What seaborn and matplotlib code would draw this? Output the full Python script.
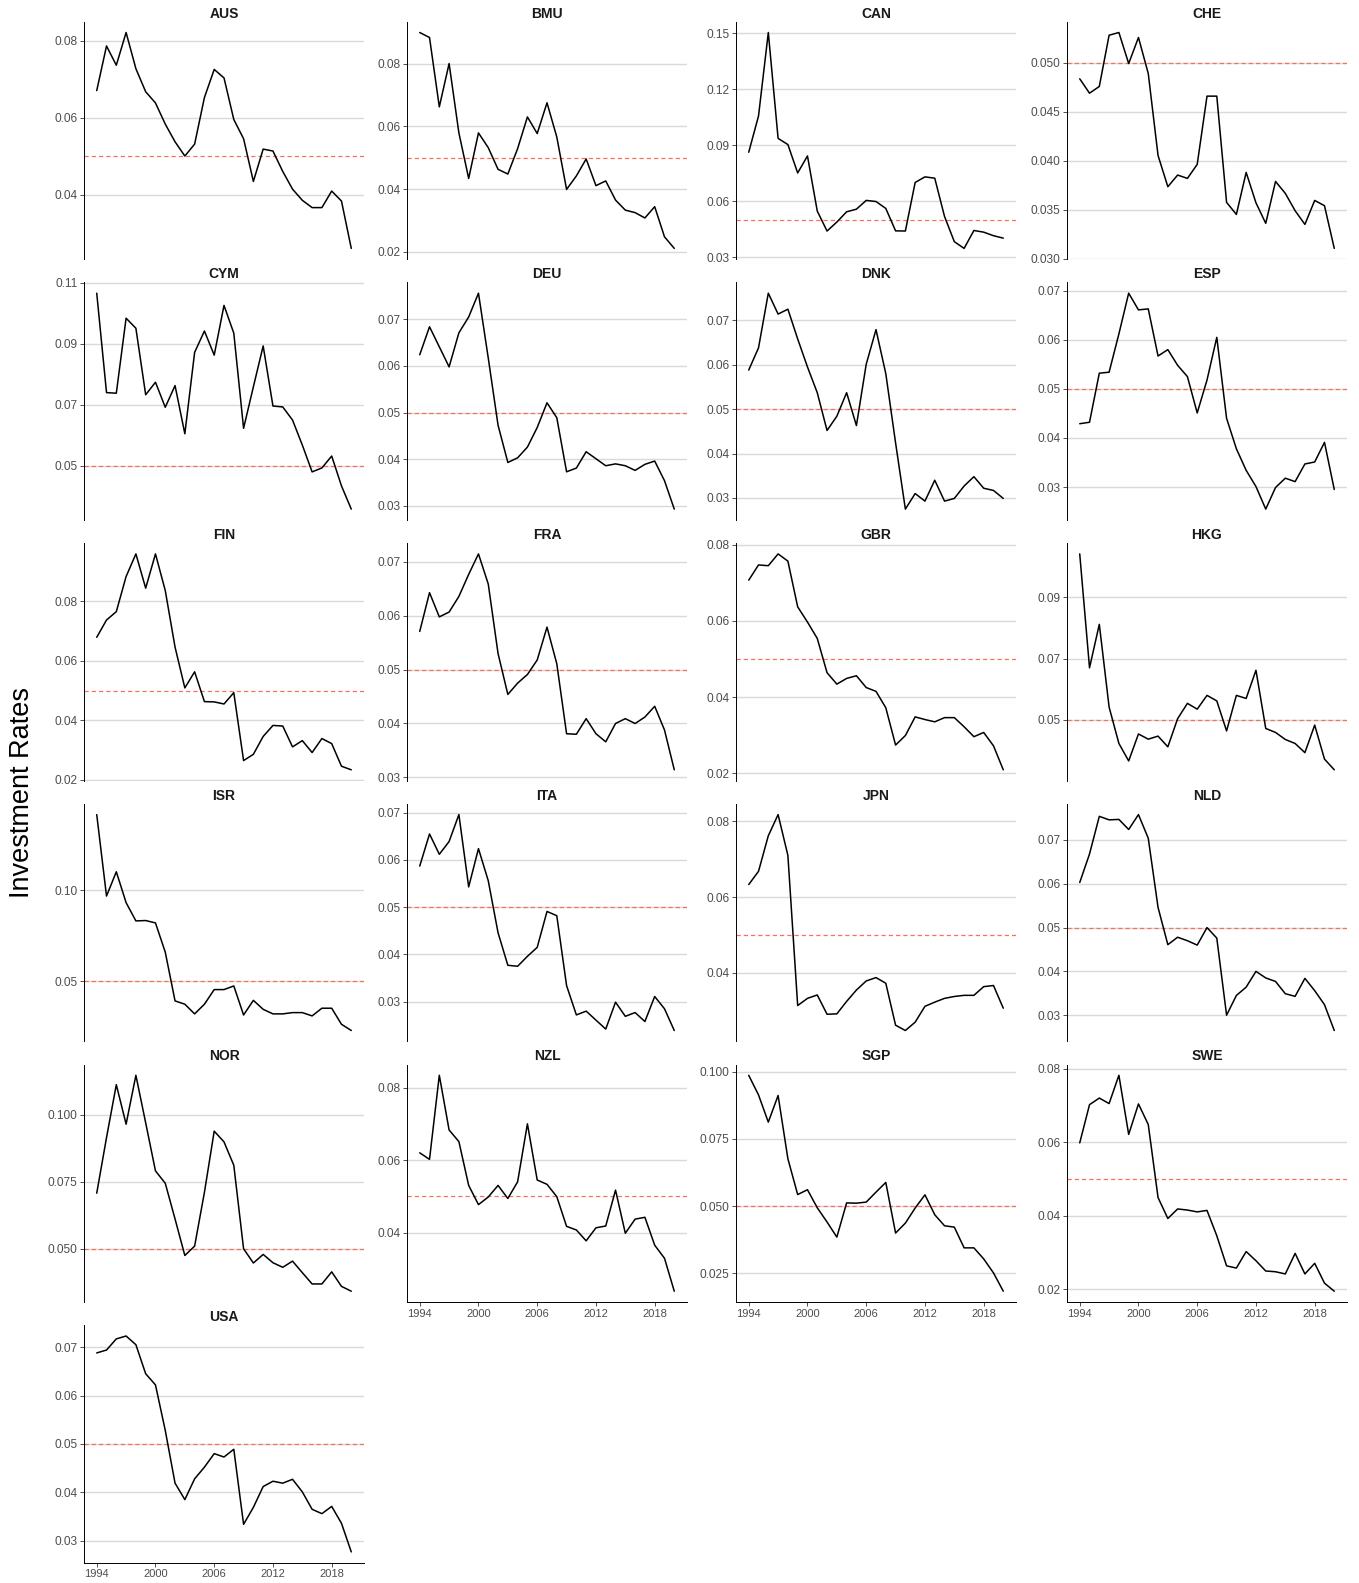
import numpy as np
import pandas as pd
import matplotlib
matplotlib.use("Agg")
import matplotlib.pyplot as plt
import seaborn as sns

years = list(range(1994, 2021))

AUS = [0.0671, 0.0787, 0.0737, 0.0822, 0.0728, 0.0668, 0.0639, 0.0584, 0.0538, 0.0501, 0.0532, 0.0653, 0.0726,
       0.0704, 0.0596, 0.0546, 0.0435, 0.0519, 0.0514, 0.0461, 0.0415, 0.0386, 0.0367, 0.0367, 0.0410, 0.0384, 0.0261]
BMU = [0.0899, 0.0883, 0.0662, 0.0800, 0.0579, 0.0434, 0.0579, 0.0532, 0.0463, 0.0448, 0.0529, 0.0630, 0.0577,
       0.0675, 0.0566, 0.0399, 0.0442, 0.0496, 0.0411, 0.0426, 0.0365, 0.0333, 0.0325, 0.0308, 0.0344, 0.0248, 0.0211]
CAN = [0.0863, 0.1057, 0.1504, 0.0937, 0.0904, 0.0752, 0.0843, 0.0548, 0.0441, 0.0489, 0.0544, 0.0558, 0.0605,
       0.0599, 0.0562, 0.0442, 0.0441, 0.0701, 0.0731, 0.0724, 0.0519, 0.0384, 0.0348, 0.0444, 0.0435, 0.0416, 0.0403]
CHE = [0.04837, 0.04690, 0.04759, 0.05282, 0.05310, 0.04993, 0.05259, 0.04891, 0.04054, 0.03735, 0.03854, 0.03820,
       0.03963, 0.04660, 0.04660, 0.03575, 0.03452, 0.03881, 0.03571, 0.03361, 0.03789, 0.03667, 0.03490, 0.03350,
       0.03595, 0.03541, 0.03105]
CYM = [0.1066, 0.0740, 0.0738, 0.0984, 0.0951, 0.0733, 0.0774, 0.0692, 0.0763, 0.0605, 0.0872, 0.0942, 0.0863,
       0.1026, 0.0935, 0.0623, 0.0759, 0.0893, 0.0696, 0.0693, 0.0650, 0.0568, 0.0480, 0.0493, 0.0532, 0.0434, 0.0358]
DEU = [0.0624, 0.0684, 0.0641, 0.0598, 0.0671, 0.0705, 0.0756, 0.0617, 0.0473, 0.0393, 0.0403, 0.0426, 0.0468,
       0.0521, 0.0489, 0.0373, 0.0381, 0.0416, 0.0401, 0.0386, 0.0390, 0.0386, 0.0376, 0.0389, 0.0396, 0.0354, 0.0293]
DNK = [0.0588, 0.0638, 0.0761, 0.0714, 0.0725, 0.0658, 0.0595, 0.0537, 0.0452, 0.0484, 0.0537, 0.0463, 0.0601,
       0.0679, 0.0580, 0.0424, 0.0275, 0.0310, 0.0293, 0.0340, 0.0293, 0.0299, 0.0327, 0.0348, 0.0322, 0.0317, 0.0299]
ESP = [0.0429, 0.0432, 0.0532, 0.0534, 0.0612, 0.0695, 0.0661, 0.0663, 0.0567, 0.0580, 0.0548, 0.0525, 0.0451,
       0.0518, 0.0605, 0.0440, 0.0378, 0.0334, 0.0301, 0.0255, 0.0299, 0.0318, 0.0311, 0.0347, 0.0351, 0.0391, 0.0295]
FIN = [0.0679, 0.0737, 0.0765, 0.0883, 0.0959, 0.0844, 0.0959, 0.0836, 0.0646, 0.0509, 0.0563, 0.0463, 0.0462,
       0.0455, 0.0493, 0.0265, 0.0286, 0.0346, 0.0383, 0.0381, 0.0311, 0.0332, 0.0292, 0.0339, 0.0322, 0.0246, 0.0234]
FRA = [0.0571, 0.0643, 0.0598, 0.0607, 0.0636, 0.0677, 0.0715, 0.0659, 0.0530, 0.0454, 0.0475, 0.0491, 0.0518,
       0.0579, 0.0511, 0.0381, 0.0380, 0.0409, 0.0381, 0.0366, 0.0400, 0.0409, 0.0400, 0.0412, 0.0432, 0.0388, 0.0314]
GBR = [0.0707, 0.0747, 0.0745, 0.0776, 0.0757, 0.0637, 0.0597, 0.0554, 0.0464, 0.0434, 0.0449, 0.0456, 0.0425,
       0.0415, 0.0372, 0.0274, 0.0299, 0.0348, 0.0341, 0.0335, 0.0346, 0.0346, 0.0322, 0.0296, 0.0307, 0.0272, 0.0209]
HKG = [0.1042, 0.0670, 0.0812, 0.0542, 0.0423, 0.0366, 0.0454, 0.0437, 0.0447, 0.0412, 0.0504, 0.0554, 0.0535,
       0.0580, 0.0562, 0.0464, 0.0580, 0.0570, 0.0662, 0.0472, 0.0459, 0.0436, 0.0423, 0.0393, 0.0483, 0.0372, 0.0337]
ISR = [0.1413, 0.0967, 0.1100, 0.0931, 0.0831, 0.0833, 0.0820, 0.0660, 0.0393, 0.0375, 0.0322, 0.0375, 0.0455,
       0.0455, 0.0475, 0.0316, 0.0396, 0.0347, 0.0322, 0.0322, 0.0329, 0.0329, 0.0311, 0.0353, 0.0353, 0.0265, 0.0231]
ITA = [0.0587, 0.0655, 0.0612, 0.0639, 0.0696, 0.0543, 0.0624, 0.0556, 0.0446, 0.0377, 0.0375, 0.0396, 0.0415,
       0.0491, 0.0482, 0.0334, 0.0272, 0.0280, 0.0261, 0.0242, 0.0299, 0.0269, 0.0277, 0.0258, 0.0311, 0.0285, 0.0239]
JPN = [0.0633, 0.0668, 0.0762, 0.0818, 0.0710, 0.0313, 0.0332, 0.0341, 0.0290, 0.0291, 0.0324, 0.0354, 0.0378,
       0.0387, 0.0372, 0.0261, 0.0247, 0.0269, 0.0311, 0.0322, 0.0332, 0.0337, 0.0340, 0.0340, 0.0363, 0.0366, 0.0306]
NLD = [0.0603, 0.0668, 0.0754, 0.0746, 0.0747, 0.0724, 0.0758, 0.0704, 0.0546, 0.0461, 0.0478, 0.0470, 0.0460,
       0.0500, 0.0476, 0.0300, 0.0345, 0.0364, 0.0400, 0.0385, 0.0377, 0.0349, 0.0343, 0.0384, 0.0356, 0.0324, 0.0265]
NOR = [0.0707, 0.0914, 0.1111, 0.0964, 0.1146, 0.0969, 0.0790, 0.0744, 0.0611, 0.0475, 0.0510, 0.0710, 0.0938,
       0.0898, 0.0811, 0.0500, 0.0447, 0.0479, 0.0448, 0.0431, 0.0454, 0.0411, 0.0369, 0.0369, 0.0414, 0.0360, 0.0342]
NZL = [0.0620, 0.0602, 0.0834, 0.0683, 0.0651, 0.0530, 0.0477, 0.0498, 0.0530, 0.0494, 0.0540, 0.0700, 0.0545,
       0.0533, 0.0499, 0.0417, 0.0407, 0.0377, 0.0413, 0.0418, 0.0517, 0.0398, 0.0437, 0.0442, 0.0365, 0.0329, 0.0238]
SGP = [0.0986, 0.0913, 0.0812, 0.0911, 0.0676, 0.0543, 0.0561, 0.0494, 0.0441, 0.0385, 0.0512, 0.0511, 0.0515,
       0.0552, 0.0588, 0.0400, 0.0437, 0.0493, 0.0542, 0.0468, 0.0427, 0.0422, 0.0345, 0.0345, 0.0304, 0.0252, 0.0184]
SWE = [0.0598, 0.0702, 0.0720, 0.0705, 0.0782, 0.0621, 0.0704, 0.0648, 0.0449, 0.0392, 0.0418, 0.0415, 0.0410,
       0.0414, 0.0345, 0.0263, 0.0257, 0.0302, 0.0277, 0.0249, 0.0247, 0.0241, 0.0297, 0.0241, 0.0270, 0.0216, 0.0194]
USA = [0.0688, 0.0694, 0.0717, 0.0723, 0.0705, 0.0645, 0.0622, 0.0528, 0.0419, 0.0385, 0.0428, 0.0452, 0.0480,
       0.0473, 0.0489, 0.0334, 0.0369, 0.0412, 0.0423, 0.0419, 0.0427, 0.0401, 0.0365, 0.0356, 0.0371, 0.0336, 0.0277]

countries = ["AUS", "BMU", "CAN", "CHE", "CYM", "DEU", "DNK", "ESP", "FIN", "FRA", "GBR",
             "HKG", "ISR", "ITA", "JPN", "NLD", "NOR", "NZL", "SGP", "SWE", "USA"]
series = [AUS, BMU, CAN, CHE, CYM, DEU, DNK, ESP, FIN, FRA, GBR,
          HKG, ISR, ITA, JPN, NLD, NOR, NZL, SGP, SWE, USA]

y_ticks = {
    "AUS": [0.04, 0.06, 0.08],
    "BMU": [0.02, 0.04, 0.06, 0.08],
    "CAN": [0.03, 0.06, 0.09, 0.12, 0.15],
    "CHE": [0.030, 0.035, 0.040, 0.045, 0.050],
    "CYM": [0.05, 0.07, 0.09, 0.11],
    "DEU": [0.03, 0.04, 0.05, 0.06, 0.07],
    "DNK": [0.03, 0.04, 0.05, 0.06, 0.07],
    "ESP": [0.03, 0.04, 0.05, 0.06, 0.07],
    "FIN": [0.02, 0.04, 0.06, 0.08],
    "FRA": [0.03, 0.04, 0.05, 0.06, 0.07],
    "GBR": [0.02, 0.04, 0.06, 0.08],
    "HKG": [0.05, 0.07, 0.09],
    "ISR": [0.05, 0.10],
    "ITA": [0.03, 0.04, 0.05, 0.06, 0.07],
    "JPN": [0.04, 0.06, 0.08],
    "NLD": [0.03, 0.04, 0.05, 0.06, 0.07],
    "NOR": [0.050, 0.075, 0.100],
    "NZL": [0.04, 0.06, 0.08],
    "SGP": [0.025, 0.050, 0.075, 0.100],
    "SWE": [0.02, 0.04, 0.06, 0.08],
    "USA": [0.03, 0.04, 0.05, 0.06, 0.07],
}
x_ticks = [1994, 2000, 2006, 2012, 2018]
threshold = 0.05

df = pd.DataFrame({
    "country": np.repeat(countries, len(years)),
    "year": years * len(countries),
    "rate": np.concatenate(series),
})

sns.set_style("ticks")
plt.rcParams["font.family"] = ["Liberation Sans", "DejaVu Sans"]

W, H = 1359, 1583
fig = plt.figure(figsize=(W / 100, H / 100), dpi=100)

col_left = [84, 407, 736, 1067]
panel_w = 280
row_top0 = 21.7
row_pitch = 260.7
panel_h = 237.5
ncol = 4
n = len(countries)


def decimals_for(ticks):
    for d in range(2, 5):
        if all(abs(round(t, d) - t) < 1e-9 for t in ticks):
            return d
    return 4


for i, c in enumerate(countries):
    r, k = divmod(i, ncol)
    left = col_left[k]
    top = row_top0 + r * row_pitch
    ax = fig.add_axes([left / W, 1 - (top + panel_h) / H, panel_w / W, panel_h / H])
    sub = df[df["country"] == c]

    ax.set_axisbelow(True)
    ax.yaxis.grid(True, color="#D9D9D9", lw=1.0)
    sns.lineplot(data=sub, x="year", y="rate", color="black", lw=1.1, ax=ax, legend=False)
    ax.axhline(threshold, color="#F9705A", lw=0.9, ls=(0, (3.4, 2.4)), zorder=1.5)

    vals = sub["rate"].to_numpy()
    lo, hi = vals.min(), vals.max()
    pad = 0.05 * (hi - lo)
    ax.set_ylim(lo - pad, hi + pad)
    ax.set_xlim(1994 - 0.05 * 26, 2020 + 0.05 * 26)

    ticks = [t for t in y_ticks[c] if lo - pad <= t <= hi + pad]
    d = decimals_for(y_ticks[c])
    ax.set_yticks(ticks)
    ax.set_yticklabels([f"{t:.{d}f}" for t in ticks])

    is_bottom = (i + ncol) >= n
    sns.despine(ax=ax, top=True, right=True, bottom=not is_bottom)
    if is_bottom:
        ax.set_xticks(x_ticks)
        ax.set_xticklabels([str(x) for x in x_ticks])
    else:
        ax.set_xticks([])

    ax.tick_params(axis="y", labelsize=8.6, colors="#333333", labelcolor="#4D4D4D",
                   length=2.8, width=0.6, pad=2)
    ax.tick_params(axis="x", labelsize=8.0, colors="#333333", labelcolor="#4D4D4D",
                   length=2.8, width=0.6, pad=2)
    for side in ("left", "bottom"):
        ax.spines[side].set_linewidth(0.7)
        ax.spines[side].set_color("black")
    ax.set_xlabel("")
    ax.set_ylabel("")
    ax.set_title(c, fontsize=10, fontweight="bold", color="#1A1A1A", pad=3)

fig.text(22 / W, 1 - 792 / H, "Investment Rates", rotation=90, fontsize=19.5,
         ha="center", va="center", color="black")

fig.savefig("out.png", dpi=100, facecolor="white")
